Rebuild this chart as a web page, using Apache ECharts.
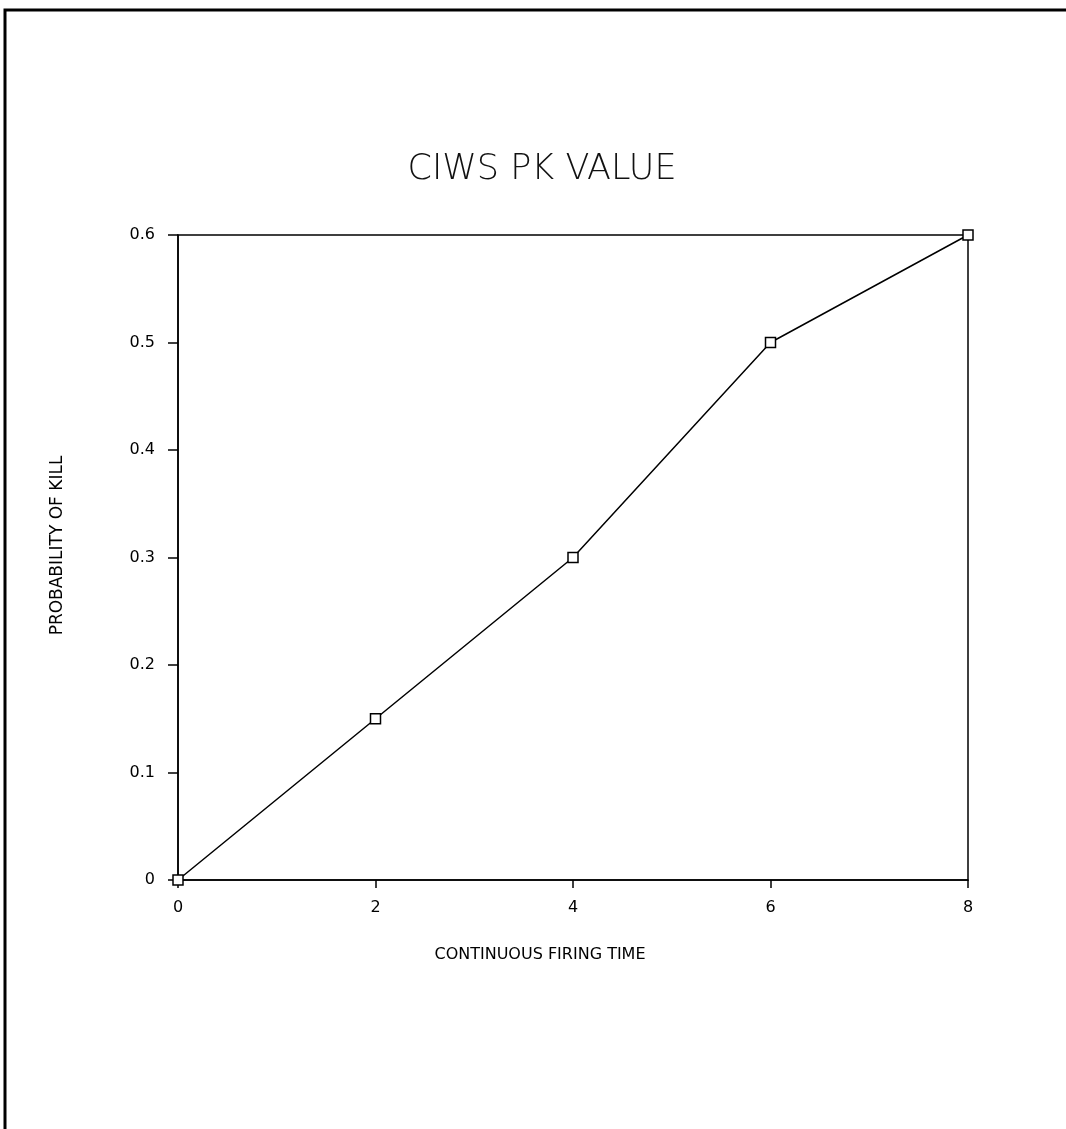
<!DOCTYPE html>
<html>
<head>
<meta charset="utf-8">
<script src="https://cdn.jsdelivr.net/npm/echarts@6/dist/echarts.min.js"></script>
<style>
  html, body { margin: 0; padding: 0; background: #fff; }
  #main { width: 1066px; height: 1129px; }
</style>
</head>
<body>
<div id="main"></div>
<script>
// firing time (x) and probability of kill (y)
var firingTime = [0, 2, 4, 6, 8];
var pkValue = [0, 0.15, 0.3, 0.5, 0.6];
var xTicks = [0, 2, 4, 6, 8];
var yTicks = [0, 0.1, 0.2, 0.3, 0.4, 0.5, 0.6];

var points = firingTime.map(function (t, i) { return [t, pkValue[i]]; });

var chart = echarts.init(document.getElementById('main'));
chart.setOption({
  backgroundColor: '#fff',
  animation: false,
  title: {
    text: 'CIWS PK VALUE',
    left: 537,
    textAlign: 'center',
    top: 147,
    textStyle: {
      fontFamily: 'DejaVu Sans',
      fontSize: 35,
      fontWeight: 'lighter',
      color: '#111'
    }
  },
  graphic: [{
    type: 'polyline',
    shape: { points: [[5, 1129], [5, 10], [1066, 10]] },
    style: { stroke: '#000', lineWidth: 3, fill: null }
  }],
  grid: {
    left: 178,
    right: 98,
    top: 235,
    bottom: 249,
    show: true,
    borderColor: '#000',
    borderWidth: 1.5
  },
  xAxis: {
    type: 'value',
    min: xTicks[0],
    max: xTicks[xTicks.length - 1],
    interval: 2,
    name: 'CONTINUOUS FIRING TIME',
    nameLocation: 'middle',
    nameGap: 67,
    nameTextStyle: {
      fontFamily: 'DejaVu Sans', fontSize: 16, color: '#000',
      padding: [0, 66, 0, 0]
    },
    axisLine: { show: true, lineStyle: { color: '#000', width: 1.5 } },
    axisTick: { show: true, inside: false, length: 8, lineStyle: { color: '#000', width: 1.5 } },
    axisLabel: { margin: 20, fontFamily: 'DejaVu Sans', fontSize: 16, color: '#000' },
    splitLine: { show: false }
  },
  yAxis: {
    type: 'value',
    min: yTicks[0],
    max: yTicks[yTicks.length - 1],
    interval: 0.1,
    name: 'PROBABILITY OF KILL',
    nameLocation: 'middle',
    nameGap: 112,
    nameTextStyle: {
      fontFamily: 'DejaVu Sans', fontSize: 17, color: '#000',
      padding: [0, 0, 0, 24]
    },
    axisLine: { show: true, lineStyle: { color: '#000', width: 1.5 } },
    axisTick: { show: true, inside: false, length: 10, lineStyle: { color: '#000', width: 1.5 } },
    axisLabel: { margin: 23, fontFamily: 'DejaVu Sans', fontSize: 16, color: '#000' },
    splitLine: { show: false }
  },
  series: [{
    type: 'line',
    data: points,
    symbol: 'rect',
    symbolSize: 10,
    showAllSymbol: true,
    lineStyle: { color: '#000', width: 1.5 },
    itemStyle: { color: '#fff', borderColor: '#000', borderWidth: 1.5 },
    z: 5
  }]
});
</script>
</body>
</html>
